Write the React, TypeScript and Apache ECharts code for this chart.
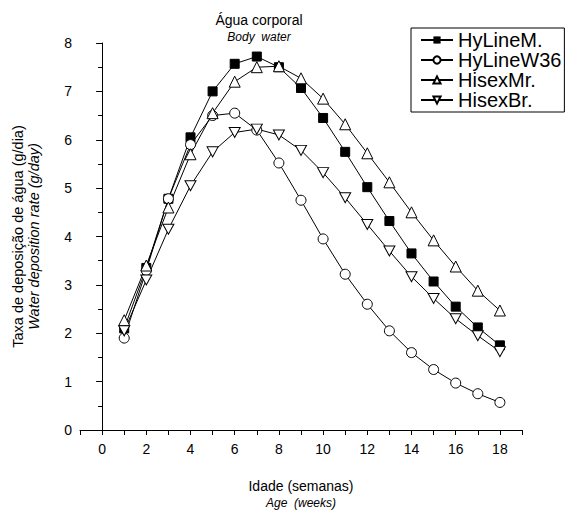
import React, { useEffect, useRef } from "react";
import * as echarts from "echarts";

const weeks = [1, 2, 3, 4, 5, 6, 7, 8, 9, 10, 11, 12, 13, 14, 15, 16, 17, 18];
const hyLineM = [2.1, 3.35, 4.78, 6.05, 7.0, 7.57, 7.72, 7.5, 7.07, 6.45, 5.75, 5.02, 4.32, 3.65, 3.07, 2.55, 2.12, 1.75];
const hyLineW36 = [1.9, 3.3, 4.78, 5.9, 6.5, 6.55, 6.2, 5.52, 4.75, 3.95, 3.22, 2.6, 2.05, 1.6, 1.25, 0.97, 0.75, 0.57];
const hisexMr = [2.27, 3.4, 4.6, 5.7, 6.55, 7.2, 7.5, 7.52, 7.27, 6.85, 6.32, 5.72, 5.12, 4.5, 3.92, 3.38, 2.88, 2.47];
const hisexBr = [2.05, 3.1, 4.15, 5.05, 5.75, 6.15, 6.22, 6.1, 5.78, 5.32, 4.8, 4.25, 3.7, 3.17, 2.72, 2.3, 1.95, 1.62];
const seriesNames = ["HyLineM.", "HyLineW36", "HisexMr.", "HisexBr."];

const FONT = "Liberation Sans, Arial, sans-serif";
const DOWN_TRI = "path://M0,0 L10,0 L5,9 Z";

export default function App() {
  const ref = useRef<HTMLDivElement>(null);
  useEffect(() => {
    if (!ref.current) return;
    const chart = echarts.init(ref.current, null, { renderer: "svg" });
    const pts = (vals: number[]) => weeks.map((w, i) => [w, vals[i]]);
    const hollow = { color: "#fff", borderColor: "#000", borderWidth: 1 };
    const mk = (name: string, vals: number[], symbol: string, itemStyle: any, size: number | number[]) => ({
      name,
      type: "line",
      data: pts(vals),
      symbol,
      symbolSize: size,
      showAllSymbol: true,
      lineStyle: { color: "#000", width: 1 },
      itemStyle,
      emphasis: { disabled: true },
    });
    chart.setOption({
      animation: false,
      textStyle: { fontFamily: FONT },
      graphic: [
        { type: "text", x: 259, y: 20, style: { text: "Água corporal", font: `14px ${FONT}`, fill: "#000", align: "center", verticalAlign: "middle" } },
        { type: "text", x: 259, y: 37, style: { text: "Body  water", font: `italic 12px ${FONT}`, fill: "#000", align: "center", verticalAlign: "middle" } },
      ],
      legend: {
        left: 411,
        top: 28,
        orient: "vertical",
        backgroundColor: "#fff",
        borderColor: "#000",
        borderWidth: 1,
        borderRadius: 0,
        padding: [2, 3, 2, 9],
        itemGap: 0,
        itemWidth: 32,
        itemHeight: 9,
        textStyle: { fontSize: 20, color: "#000", fontFamily: FONT },
        data: seriesNames,
      },
      grid: { left: 80, right: 52, top: 43, bottom: 77 },
      xAxis: {
        type: "value",
        min: -1,
        max: 19,
        interval: 1,
        name: "{a|Idade (semanas)}\n{b|Age  (weeks)}",
        nameLocation: "middle",
        nameGap: 46,
        nameTextStyle: {
          rich: {
            a: { fontSize: 14, color: "#000", fontFamily: FONT, lineHeight: 19 },
            b: { fontSize: 12, fontStyle: "italic", color: "#000", fontFamily: FONT, lineHeight: 16 },
          },
        },
        axisLine: { lineStyle: { color: "#000", width: 1 } },
        axisTick: { inside: false, length: 5, lineStyle: { color: "#000" } },
        axisLabel: {
          color: "#000",
          fontSize: 14,
          margin: 12,
          formatter: (v: number) => (Math.round(v) % 2 === 0 ? String(v) : ""),
        },
        splitLine: { show: false },
      },
      yAxis: {
        type: "value",
        min: 0,
        max: 8,
        interval: 1,
        name: "{a|Taxa de deposição de água (g/dia)}\n{b|Water deposition rate (g/day)}",
        nameLocation: "middle",
        nameRotate: 90,
        nameGap: 38,
        nameTextStyle: {
          rich: {
            a: { fontSize: 14.5, color: "#000", fontFamily: FONT, lineHeight: 16 },
            b: { fontSize: 14.5, fontStyle: "italic", color: "#000", fontFamily: FONT, lineHeight: 16 },
          },
        },
        axisLine: { show: true, lineStyle: { color: "#000", width: 1 } },
        axisTick: { show: true, length: 6, lineStyle: { color: "#000" } },
        minorTick: { show: true, splitNumber: 2, length: 4, lineStyle: { color: "#000" } },
        axisLabel: { color: "#000", fontSize: 14, margin: 8 },
        splitLine: { show: false },
      },
      series: [
        mk(seriesNames[0], hyLineM, "rect", { color: "#000", borderColor: "#000" }, 9),
        mk(seriesNames[1], hyLineW36, "circle", hollow, 10),
        mk(seriesNames[2], hisexMr, "triangle", hollow, 11),
        mk(seriesNames[3], hisexBr, DOWN_TRI, hollow, [11, 10]),
      ],
    });
    return () => chart.dispose();
  }, []);
  return <div ref={ref} style={{ position: "absolute", left: 0, top: 0, width: 574, height: 514 }} />;
}
